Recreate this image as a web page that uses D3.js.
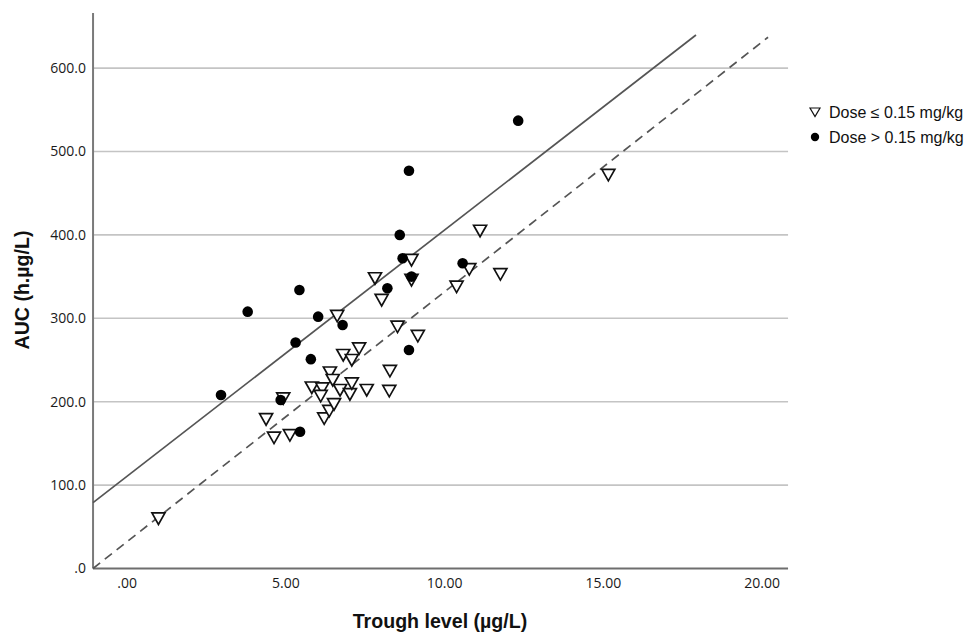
<!DOCTYPE html>
<html>
<head>
<meta charset="utf-8">
<script src="https://cdn.jsdelivr.net/npm/d3@7"></script>
<style>
  body { margin: 0; background: #fff; }
  svg { display: block; font-family: "Liberation Sans", Arial, sans-serif; }
</style>
</head>
<body>
<svg id="chart" width="970" height="635"></svg>
<script>
// trough level (µg/L), AUC (h.µg/L) -- dose <= 0.15 mg/kg
const lowDoseTrough = [1.0, 4.39, 4.64, 5.14, 4.93, 5.83, 6.16, 6.11, 6.22, 6.38, 6.53, 6.40, 6.49,
  6.72, 7.03, 7.09, 7.56, 8.27, 8.29, 6.82, 7.09, 7.32, 6.63, 8.03, 7.82, 8.53, 9.17, 8.97, 8.97,
  10.39, 10.79, 11.77, 11.13, 15.17];
const lowDoseAUC = [60, 179, 157, 160, 204, 217, 216, 207, 180, 189, 197, 235, 226,
  214, 209, 222, 214, 213, 237, 256, 250, 264, 303, 322, 348, 290, 279, 346, 370,
  338, 359, 353, 405, 472];

// dose > 0.15 mg/kg
const highDoseTrough = [2.97, 3.81, 4.85, 5.32, 5.44, 5.46, 5.80, 6.03, 6.80, 8.21, 8.60, 8.69,
  8.89, 8.89, 8.97, 10.58, 12.33];
const highDoseAUC = [208, 308, 202, 271, 334, 164, 251, 302, 292, 336, 400, 372,
  477, 262, 350, 366, 537];

// fit lines: solid = high dose, dashed = low dose
const fitLines = [
  { name: 'high', intercept: 110.2, slope: 29.53, from: -1.06, to: 17.93, dash: null },
  { name: 'low', intercept: 31.8, slope: 29.96, from: -1.06, to: 20.2, dash: '9,6' }
];

const xTicks = [0, 5, 10, 15, 20];
const yTicks = [0, 100, 200, 300, 400, 500, 600];
const legendLabels = ['Dose \u2264 0.15 mg/kg', 'Dose > 0.15 mg/kg'];

const svg = d3.select('#chart');

const x = d3.scaleLinear().domain([0, 20]).range([126.7, 761.7]);
const y = d3.scaleLinear().domain([0, 600]).range([568.5, 68.1]);

const xMin = -1.06, xMax = 20.83, yMax = 666;

// gridlines
svg.append('g')
  .selectAll('line')
  .data(yTicks.filter(d => d > 0))
  .join('line')
  .attr('x1', x(xMin)).attr('x2', x(xMax))
  .attr('y1', d => y(d)).attr('y2', d => y(d))
  .attr('stroke', '#c4c4c4')
  .attr('stroke-width', 1.6);

// axes (lines drawn by hand, labels via d3 axis)
const yAxis = svg.append('g')
  .attr('transform', `translate(${x(xMin)},0)`)
  .call(d3.axisLeft(y).tickValues(yTicks).tickSize(0).tickPadding(7)
    .tickFormat(d => d === 0 ? '.0' : d.toFixed(1)));
yAxis.select('.domain').remove();

const xAxis = svg.append('g')
  .attr('transform', `translate(0,${y(0)})`)
  .call(d3.axisBottom(x).tickValues(xTicks).tickSize(0).tickPadding(10)
    .tickFormat(d => d === 0 ? '.00' : d.toFixed(2)));
xAxis.select('.domain').remove();

svg.selectAll('.tick text')
  .attr('font-size', 14)
  .attr('fill', '#1a1a1a')
  .attr('font-weight', 500)
  .attr('font-family', '"Open Sans", "Liberation Sans", sans-serif');

svg.append('line')
  .attr('x1', x(xMin)).attr('x2', x(xMin))
  .attr('y1', y(0)).attr('y2', y(yMax))
  .attr('stroke', '#7a7a7a').attr('stroke-width', 2);
svg.append('line')
  .attr('x1', x(xMin)).attr('x2', x(xMax))
  .attr('y1', y(0)).attr('y2', y(0))
  .attr('stroke', '#6e6e6e').attr('stroke-width', 2);

// fit lines
svg.append('g')
  .selectAll('line')
  .data(fitLines)
  .join('line')
  .attr('x1', d => x(d.from))
  .attr('y1', d => y(d.intercept + d.slope * d.from))
  .attr('x2', d => x(d.to))
  .attr('y2', d => y(d.intercept + d.slope * d.to))
  .attr('stroke', '#555')
  .attr('stroke-width', 1.7)
  .attr('stroke-dasharray', d => d.dash);

// markers
const tri = 'M-6.5,-5.5L6.5,-5.5L0,6Z';
const lowPts = lowDoseTrough.map((t, i) => [t, lowDoseAUC[i]]);
const highPts = highDoseTrough.map((t, i) => [t, highDoseAUC[i]]);

svg.append('g')
  .selectAll('path')
  .data(lowPts)
  .join('path')
  .attr('d', tri)
  .attr('transform', d => `translate(${x(d[0])},${y(d[1])})`)
  .attr('fill', '#fff')
  .attr('stroke', '#111')
  .attr('stroke-width', 1.7);

svg.append('g')
  .selectAll('circle')
  .data(highPts)
  .join('circle')
  .attr('cx', d => x(d[0]))
  .attr('cy', d => y(d[1]))
  .attr('r', 5.3)
  .attr('fill', '#000');

// axis titles
svg.append('text')
  .attr('x', 440).attr('y', 628)
  .attr('text-anchor', 'middle')
  .attr('font-weight', 'bold')
  .attr('font-size', 19.6)
  .attr('fill', '#111')
  .text('Trough level (\u00b5g/L)');

svg.append('text')
  .attr('transform', 'translate(29,290) rotate(-90)')
  .attr('text-anchor', 'middle')
  .attr('font-weight', 'bold')
  .attr('font-size', 19.6)
  .attr('fill', '#111')
  .text('AUC (h.\u00b5g/L)');

// legend
const legend = svg.append('g').attr('transform', 'translate(815,112)');
legend.append('path')
  .attr('d', 'M-5,-4L5,-4L0,4.5Z')
  .attr('fill', '#fff').attr('stroke', '#111').attr('stroke-width', 1.2);
legend.append('circle')
  .attr('cy', 25).attr('r', 4.2).attr('fill', '#000');
legend.selectAll('text')
  .data(legendLabels)
  .join('text')
  .attr('x', 14)
  .attr('y', (d, i) => i * 25 + 6)
  .attr('font-size', 16)
  .attr('fill', '#111')
  .text(d => d);
</script>
</body>
</html>
